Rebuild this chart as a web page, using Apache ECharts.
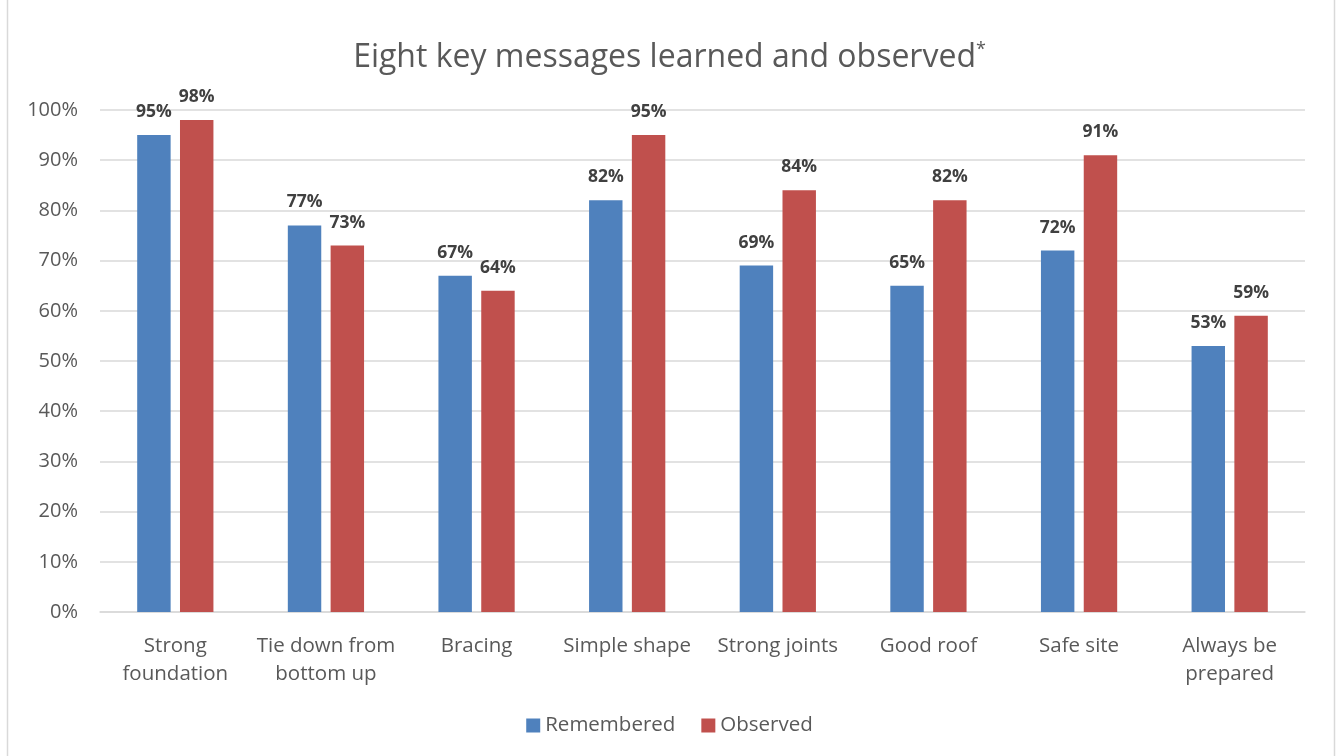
<!DOCTYPE html>
<html><head><meta charset="utf-8">
<script src="https://cdn.jsdelivr.net/npm/echarts@6/dist/echarts.min.js"></script>
<style>html,body{margin:0;padding:0;background:#fff}#c{width:1339px;height:756px}</style>
</head><body><div id="c"></div>
<script>
const categories = ['Strong\nfoundation','Tie down from\nbottom up','Bracing','Simple shape','Strong joints','Good roof','Safe site','Always be\nprepared'];
const remembered = [95,77,67,82,69,65,72,53];
const observed = [98,73,64,95,84,82,91,59];
const seriesNames = ['Remembered','Observed'];
const FONT = '"Open Sans", "Noto Sans", sans-serif';
const chart = echarts.init(document.getElementById('c'));
const labelCfg = {show:true, position:'top', distance:14, formatter: p => p.value + '%', fontFamily:FONT, fontWeight:'bold', fontSize:17.5, color:'#404040'};
chart.setOption({
  animation:false,
  textStyle:{fontFamily:FONT},
  graphic:[{type:'rect', shape:{x:7.5,y:-2,width:1327,height:770}, style:{fill:'none', stroke:'#D9D9D9', lineWidth:1.5}}],
  title:{text:'Eight key messages learned and observed{s|*}', left:'center', top:36,
    textStyle:{fontFamily:FONT, fontSize:32, fontWeight:'normal', color:'#595959',
      rich:{s:{fontSize:18, color:'#595959', verticalAlign:'top', padding:[0,0,16,0]}}}},
  legend:{bottom:15, left:'center', itemWidth:14, itemHeight:14, itemGap:26,
    textStyle:{fontFamily:FONT, fontSize:20.5, color:'#595959'}, data:seriesNames, icon:'rect'},
  grid:{left:100, right:34, top:110, bottom:144},
  xAxis:{type:'category', data:categories, axisTick:{show:false},
    axisLine:{lineStyle:{color:'#D9D9D9', width:1.5}},
    axisLabel:{interval:0, fontFamily:FONT, fontSize:20.5, color:'#595959', margin:20, lineHeight:28}},
  yAxis:{type:'value', min:0, max:100, interval:10,
    axisLabel:{formatter:'{value}%', fontFamily:FONT, fontSize:20, color:'#595959', margin:22},
    splitLine:{lineStyle:{color:'#D9D9D9', width:1.5}}, axisLine:{show:false}, axisTick:{show:false}},
  series:[
    {name:seriesNames[0], type:'bar', data:remembered, barWidth:'22.2%', barGap:'28%', itemStyle:{color:'#4F81BD'}, label:labelCfg},
    {name:seriesNames[1], type:'bar', data:observed, barWidth:'22.2%', barGap:'28%', itemStyle:{color:'#C0504D'}, label:labelCfg}
  ]
});
</script></body></html>
